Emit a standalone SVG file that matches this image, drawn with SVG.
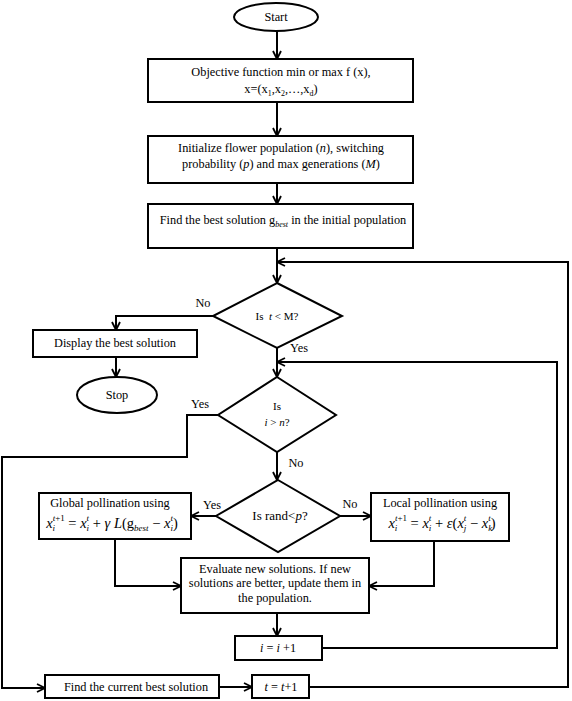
<svg xmlns="http://www.w3.org/2000/svg" width="572" height="701" viewBox="0 0 572 701">
<style>
text{font-family:"Liberation Serif","Times New Roman",serif;font-size:12.3px;fill:#000}
.m{text-anchor:middle}
.it{font-style:italic}
.s{font-size:8px}
.fs{font-size:9px}
.d{font-size:11px}
.pre{white-space:pre}
.shape{fill:#fff;stroke:#000;stroke-width:2}
.line{fill:none;stroke:#000;stroke-width:2}
</style>
<defs>
<marker id="arr" viewBox="0 0 10 10" refX="9" refY="5" markerWidth="10" markerHeight="10" markerUnits="userSpaceOnUse" orient="auto">
<path d="M1,1 L9,5 L1,9" fill="none" stroke="#000" stroke-width="1.8"/>
</marker>
</defs>
<rect width="572" height="701" fill="#fff"/>
<g id="connectors">
<path class="line" d="M277,31 V59" marker-end="url(#arr)"/>
<path class="line" d="M277,102 V136" marker-end="url(#arr)"/>
<path class="line" d="M277,183 V204" marker-end="url(#arr)"/>
<path class="line" d="M277,248 V283" marker-end="url(#arr)"/>
<path class="line" d="M309,687 H568 V262 H277" marker-end="url(#arr)"/>
<path class="line" d="M213,316 H116 V330" marker-end="url(#arr)"/>
<path class="line" d="M116,357 V377" marker-end="url(#arr)"/>
<path class="line" d="M277,348 V377" marker-end="url(#arr)"/>
<path class="line" d="M322,648 H557 V362 H277" marker-end="url(#arr)"/>
<path class="line" d="M218,415 H187 V457 H2 V688 H45" marker-end="url(#arr)"/>
<path class="line" d="M277,452 V480" marker-end="url(#arr)"/>
<path class="line" d="M216,516 H191" marker-end="url(#arr)"/>
<path class="line" d="M340,516 H371" marker-end="url(#arr)"/>
<path class="line" d="M115,539 V586 H181" marker-end="url(#arr)"/>
<path class="line" d="M434,541 V586 H369" marker-end="url(#arr)"/>
<path class="line" d="M277,613 V636" marker-end="url(#arr)"/>
<path class="line" d="M219,687 H252" marker-end="url(#arr)"/>
<text class="m" x="203" y="307">No</text>
<text class="m" x="299" y="352">Yes</text>
<text class="m" x="200" y="408">Yes</text>
<text class="m" x="296" y="467">No</text>
<text class="m" x="212" y="509">Yes</text>
<text class="m" x="350" y="508">No</text>
</g>
<g id="start">
<ellipse class="shape" cx="276" cy="17" rx="42" ry="14"/>
<text class="m" x="276" y="21">Start</text>
</g>
<g id="objective">
<rect class="shape" x="148" y="59" width="265" height="43"/>
<text class="m" x="281" y="76">Objective function min or max f (x),</text>
<text class="m" x="281" y="93">x=(x<tspan class="s" dy="3">1</tspan><tspan dy="-3">,x</tspan><tspan class="s" dy="3">2</tspan><tspan dy="-3">,…,x</tspan><tspan class="s" dy="3">d</tspan><tspan dy="-3">)</tspan></text>
</g>
<g id="initialize">
<rect class="shape" x="148" y="136" width="265" height="47"/>
<text class="m" x="281" y="152">Initialize flower population (<tspan class="it">n</tspan>), switching</text>
<text class="m" x="281" y="168">probability (<tspan class="it">p</tspan>) and max generations (<tspan class="it">M</tspan>)</text>
</g>
<g id="findbest">
<rect class="shape" x="148" y="204" width="265" height="44"/>
<text class="m pre" x="283" y="224">Find the best solution g<tspan class="s it" dy="2.5">best</tspan><tspan dy="-2.5"> in the initial population</tspan></text>
</g>
<g id="decision-t">
<polygon class="shape" points="277,283 342,316 277,348 213,316"/>
<text class="m d pre" x="277" y="320">Is  <tspan class="it">t</tspan> &lt; M?</text>
</g>
<g id="display">
<rect class="shape" x="33" y="330" width="164" height="27"/>
<text class="m" x="115" y="347">Display the best solution</text>
</g>
<g id="stop">
<ellipse class="shape" cx="117" cy="395" rx="40" ry="18"/>
<text class="m" x="117" y="399">Stop</text>
</g>
<g id="decision-i">
<polygon class="shape" points="277,377 336,415 277,452 218,415"/>
<text class="m d" x="277" y="410">Is</text>
<text class="m d" x="277" y="426"><tspan class="it">i</tspan> &gt; <tspan class="it">n</tspan>?</text>
</g>
<g id="decision-rand">
<polygon class="shape" points="278,480 340,516 278,552 216,516"/>
<text class="m" x="280" y="520" style="font-size:13px">Is rand&lt;<tspan class="it">p</tspan>?</text>
</g>
<g id="global">
<rect class="shape" x="39" y="493" width="152" height="46"/>
<text class="m" x="110" y="507">Global pollination using</text>
<text class="m pre" x="112" y="528" style="font-size:14.5px"><tspan class="it">x</tspan><tspan class="fs it" dy="3">i</tspan><tspan class="fs it" dx="-2.5" dy="-10">t</tspan><tspan class="fs">+1</tspan><tspan dy="7"> = </tspan><tspan class="it">x</tspan><tspan class="fs it" dy="3">i</tspan><tspan class="fs it" dx="-2.5" dy="-10">t</tspan><tspan dy="7"> + </tspan><tspan class="it">γ </tspan><tspan class="it">L</tspan><tspan>(g</tspan><tspan class="fs it" dy="3">best</tspan><tspan dy="-3"> − </tspan><tspan class="it">x</tspan><tspan class="fs it" dy="3">i</tspan><tspan class="fs it" dx="-2.5" dy="-10">t</tspan><tspan dy="7">)</tspan></text>
</g>
<g id="local">
<rect class="shape" x="371" y="493" width="138" height="48"/>
<text class="m" x="440" y="507">Local pollination using</text>
<text class="m pre" x="442" y="528" style="font-size:14.5px"><tspan class="it">x</tspan><tspan class="fs it" dy="3">i</tspan><tspan class="fs it" dx="-2.5" dy="-10">t</tspan><tspan class="fs">+1</tspan><tspan dy="7"> = </tspan><tspan class="it">x</tspan><tspan class="fs it" dy="3">i</tspan><tspan class="fs it" dx="-2.5" dy="-10">t</tspan><tspan dy="7"> + </tspan><tspan class="it">ε</tspan><tspan>(</tspan><tspan class="it">x</tspan><tspan class="fs it" dy="3">j</tspan><tspan class="fs it" dx="-2.5" dy="-10">t</tspan><tspan dy="7"> − </tspan><tspan class="it">x</tspan><tspan class="fs it" dy="3">k</tspan><tspan class="fs it" dx="-4" dy="-10">t</tspan><tspan dy="7">)</tspan></text>
</g>
<g id="evaluate">
<rect class="shape" x="181" y="558" width="188" height="55"/>
<text class="m" x="275" y="573">Evaluate new solutions. If new</text>
<text class="m" x="275" y="587">solutions are better, update them in</text>
<text class="m" x="275" y="602">the population.</text>
</g>
<g id="increment-i">
<rect class="shape" x="235" y="636" width="87" height="24"/>
<text class="m pre" x="278" y="652"><tspan class="it">i</tspan> = <tspan class="it">i</tspan> +1</text>
</g>
<g id="current-best">
<rect class="shape" x="45" y="675" width="174" height="23"/>
<text class="m" x="136" y="691">Find the current best solution</text>
</g>
<g id="increment-t">
<rect class="shape" x="252" y="675" width="57" height="23"/>
<text class="m pre" x="281" y="691"><tspan class="it">t</tspan> = <tspan class="it">t</tspan>+1</text>
</g>
</svg>
